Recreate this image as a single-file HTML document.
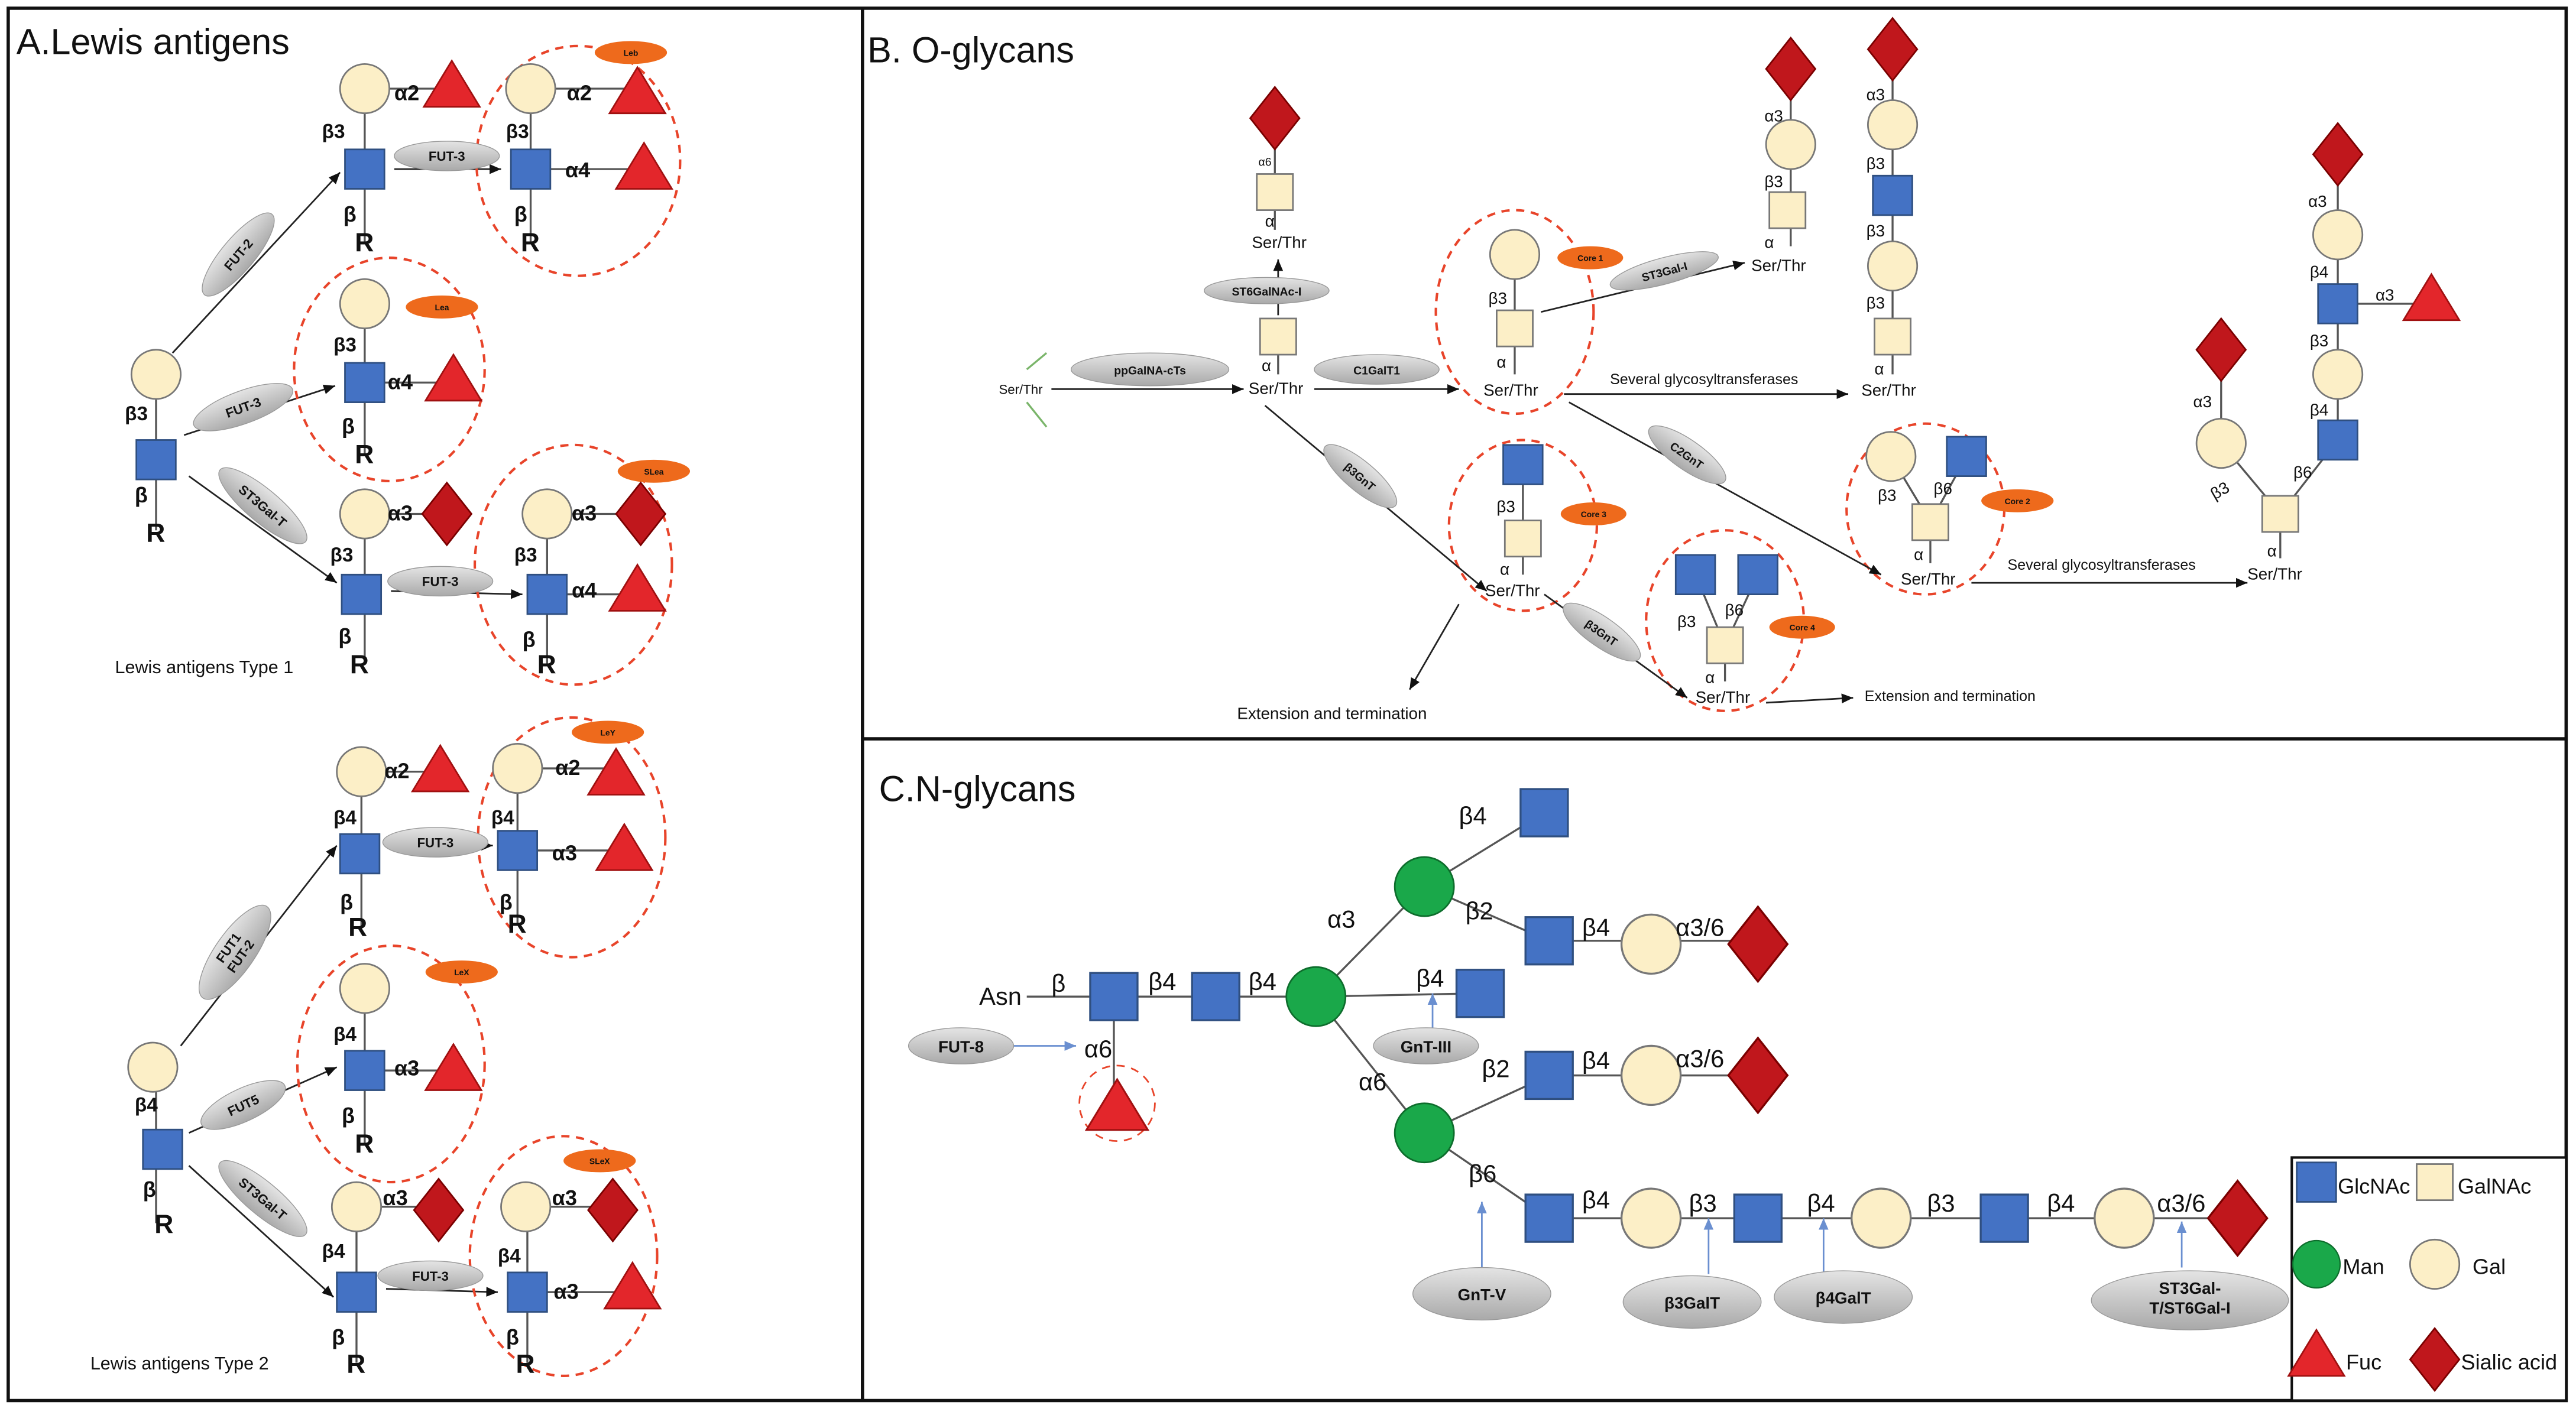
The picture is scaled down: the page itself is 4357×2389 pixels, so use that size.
<!DOCTYPE html>
<html><head><meta charset="utf-8"><style>
html,body{margin:0;padding:0;background:#fff}
svg{display:block}
text{font-family:"Liberation Sans",sans-serif;fill:#111}
.l{font-size:13px;font-weight:bold}
.s{font-size:9px}
.e{font-size:8px;font-weight:bold;fill:#333}
.o{font-size:5px;font-weight:bold;fill:#fff}
.t{font-size:22px}
.c{font-size:15px}
.lg{font-size:13px}
</style></head><body>
<svg width="4357" height="2389" viewBox="0 0 1568 860" preserveAspectRatio="none" xmlns="http://www.w3.org/2000/svg">
<defs>
<linearGradient id="gg" x1="0" y1="0" x2="0" y2="1"><stop offset="0" stop-color="#e4e4e4"/><stop offset="1" stop-color="#a9a9a9"/></linearGradient>
<marker id="ar" markerWidth="8" markerHeight="8" refX="7" refY="4" orient="auto" markerUnits="userSpaceOnUse"><path d="M0,1 L7,4 L0,7z" fill="#111"/></marker>
<marker id="ab" markerWidth="8" markerHeight="8" refX="7" refY="4" orient="auto" markerUnits="userSpaceOnUse"><path d="M0,1 L7,4 L0,7z" fill="#6a8fd0"/></marker>
<rect id="gn" x="-12" y="-12" width="24" height="24" fill="#4472c4" stroke="#2f4f80" stroke-width="1"/>
<rect id="ga" x="-11" y="-11" width="22" height="22" fill="#fcefc7" stroke="#777" stroke-width="1"/>
<circle id="gal" r="15" fill="#fcefc7" stroke="#777" stroke-width="1"/>
<polygon id="fuc" points="0,-16 17,12 -17,12" fill="#e3262b" stroke="#a01010" stroke-width="1"/>
<polygon id="sia" points="0,-19 15,0 0,19 -15,0" fill="#c0171c" stroke="#7a0000" stroke-width="1"/>
<circle id="man" r="18" fill="#1aa84a" stroke="#0d6d2c" stroke-width="1"/>
</defs>
<rect x="0" y="0" width="1568" height="860" fill="#fff"/>
<rect x="5" y="5" width="1557" height="848" fill="none" stroke="#111" stroke-width="2"/>
<line x1="525" y1="5" x2="525" y2="853" stroke="#111" stroke-width="2"/>
<line x1="525" y1="450" x2="1562" y2="450" stroke="#111" stroke-width="2"/>

<g stroke="#555" stroke-width="1.2" fill="none">
<!-- Panel A lines -->
<path d="M222,54 V148 M222,54 H275 M323,54 V148 M323,54 H388 M323,103 H392"/>
<path d="M222,185 V277 M222,233 H276"/>
<path d="M95,228 V323"/>
<path d="M222,313 V405 M222,313 H272 M333,313 V405 M333,313 H390 M333,362 H388"/>
<path d="M220,470 V565 M220,470 H268 M315,468 V563 M315,468 H375 M315,518 H380"/>
<path d="M222,602 V697 M222,652 H276"/>
<path d="M95,650 V745"/>
<path d="M217,735 V830 M217,735 H267 M321,735 V830 M321,735 H373 M321,787 H388"/>
<!-- Panel B -->
<path d="M776,72 V140 M778,205 V228 M922,155 V228 M1090,42 V150 M1152,30 V228 M1151,278 L1175,318 L1197,278 M1175,318 V343"/>
<path d="M1423,94 V268 L1388,313 M1423,185 H1480 M1352,213 V270 L1388,313 M1388,313 V340"/>
<path d="M927,283 V350 M1032,350 L1050,393 L1070,350 M1050,393 V415"/>
<!-- Panel C -->
<path d="M625,607 H801 M678,607 V675 M801,607 L867,540 L940,495 M867,540 L943,573 H1070 M801,607 L901,605 M801,607 L867,690 L943,655 H1070 M867,690 L943,742 H1362"/>
</g>

<!-- Panel A title -->
<text x="10" y="33" class="t">A.Lewis antigens</text>
<!-- arrows A -->
<g stroke="#222" stroke-width="1" marker-end="url(#ar)">
<line x1="105" y1="215" x2="207" y2="105"/><line x1="112" y1="265" x2="204" y2="235"/><line x1="115" y1="290" x2="205" y2="355"/>
<line x1="240" y1="103" x2="305" y2="103"/><line x1="238" y1="360" x2="318" y2="362"/>
<line x1="110" y1="637" x2="205" y2="515"/><line x1="115" y1="690" x2="205" y2="650"/><line x1="115" y1="710" x2="203" y2="790"/>
<line x1="237" y1="515" x2="300" y2="515"/><line x1="235" y1="785" x2="303" y2="787"/>
</g>
<g stroke="#e8442a" stroke-width="1.5" stroke-dasharray="5,4" fill="none">
<ellipse cx="352" cy="98" rx="62" ry="70"/><ellipse cx="237" cy="225" rx="58" ry="68"/><ellipse cx="349" cy="344" rx="60" ry="73"/>
<ellipse cx="348" cy="510" rx="57" ry="73"/><ellipse cx="238" cy="648" rx="57" ry="72"/><ellipse cx="343" cy="765" rx="57" ry="73"/>
<ellipse cx="922" cy="190" rx="48" ry="62"/><ellipse cx="1172" cy="310" rx="48" ry="52"/><ellipse cx="927" cy="320" rx="45" ry="52"/><ellipse cx="1050" cy="378" rx="48" ry="55"/>
<circle cx="680" cy="672" r="23" stroke-width="1"/>
</g>
<!-- gray enzyme ellipses A -->
<g fill="url(#gg)" stroke="#999" stroke-width="0.5">
<ellipse cx="272" cy="95" rx="32" ry="9"/><ellipse cx="145" cy="155" rx="32" ry="10" transform="rotate(-50 145 155)"/>
<ellipse cx="148" cy="248" rx="32" ry="10" transform="rotate(-20 148 248)"/><ellipse cx="160" cy="308" rx="34" ry="10" transform="rotate(40 160 308)"/>
<ellipse cx="268" cy="354" rx="32" ry="9"/>
<ellipse cx="265" cy="513" rx="32" ry="9"/><ellipse cx="143" cy="580" rx="34" ry="12" transform="rotate(-55 143 580)"/>
<ellipse cx="148" cy="673" rx="28" ry="10" transform="rotate(-25 148 673)"/><ellipse cx="160" cy="730" rx="34" ry="10" transform="rotate(40 160 730)"/>
<ellipse cx="262" cy="777" rx="32" ry="9"/>
</g>
<g text-anchor="middle" class="e">
<text x="272" y="98">FUT-3</text>
<text x="145" y="158" transform="rotate(-50 145 155)">FUT-2</text>
<text x="148" y="251" transform="rotate(-20 148 248)">FUT-3</text>
<text x="160" y="311" transform="rotate(40 160 308)">ST3Gal-T</text>
<text x="268" y="357">FUT-3</text>
<text x="265" y="516">FUT-3</text>
<text x="143" y="578" transform="rotate(-55 143 580)">FUT1</text><text x="143" y="587" transform="rotate(-55 143 580)">FUT-2</text>
<text x="148" y="676" transform="rotate(-25 148 673)">FUT5</text>
<text x="160" y="733" transform="rotate(40 160 730)">ST3Gal-T</text>
<text x="262" y="780">FUT-3</text>
</g>
<!-- orange labels -->
<g fill="#ee6a1c">
<ellipse cx="384" cy="32" rx="22" ry="7"/><ellipse cx="269" cy="187" rx="22" ry="7"/><ellipse cx="398" cy="287" rx="22" ry="7"/>
<ellipse cx="370" cy="446" rx="22" ry="7"/><ellipse cx="281" cy="592" rx="22" ry="7"/><ellipse cx="365" cy="707" rx="22" ry="7"/>
<ellipse cx="968" cy="157" rx="20" ry="7"/><ellipse cx="1228" cy="305" rx="22" ry="7"/><ellipse cx="970" cy="313" rx="20" ry="7"/><ellipse cx="1097" cy="382" rx="20" ry="7"/>
</g>
<g text-anchor="middle" class="o">
<text x="384" y="34">Leb</text><text x="269" y="189">Lea</text><text x="398" y="289">SLea</text>
<text x="370" y="448">LeY</text><text x="281" y="594">LeX</text><text x="365" y="709">SLeX</text>
<text x="968" y="159">Core 1</text><text x="1228" y="307">Core 2</text><text x="970" y="315">Core 3</text><text x="1097" y="384">Core 4</text>
</g>
<!-- Panel A glycans -->
<use href="#gal" x="222" y="54"/><use href="#fuc" x="275" y="53"/><use href="#gn" x="222" y="103"/>
<use href="#gal" x="323" y="54"/><use href="#fuc" x="388" y="57"/><use href="#gn" x="323" y="103"/><use href="#fuc" x="392" y="103"/>
<use href="#gal" x="222" y="185"/><use href="#gn" x="222" y="233"/><use href="#fuc" x="276" y="232"/>
<use href="#gal" x="95" y="228"/><use href="#gn" x="95" y="280"/>
<use href="#gal" x="222" y="313"/><use href="#sia" x="272" y="313"/><use href="#gn" x="220" y="362"/>
<use href="#gal" x="333" y="313"/><use href="#sia" x="390" y="313"/><use href="#gn" x="333" y="362"/><use href="#fuc" x="388" y="360"/>
<use href="#gal" x="220" y="470"/><use href="#fuc" x="268" y="470"/><use href="#gn" x="219" y="520"/>
<use href="#gal" x="315" y="468"/><use href="#fuc" x="375" y="472"/><use href="#gn" x="315" y="518"/><use href="#fuc" x="380" y="518"/>
<use href="#gal" x="222" y="602"/><use href="#gn" x="222" y="652"/><use href="#fuc" x="276" y="652"/>
<use href="#gal" x="93" y="650"/><use href="#gn" x="99" y="700"/>
<use href="#gal" x="217" y="735"/><use href="#sia" x="267" y="737"/><use href="#gn" x="217" y="787"/>
<use href="#gal" x="320" y="735"/><use href="#sia" x="373" y="737"/><use href="#gn" x="321" y="787"/><use href="#fuc" x="385" y="785"/>
<g class="l">
<text x="240" y="61">α2</text><text x="196" y="84" class="s" style="font-size:12px">β3</text><text x="209" y="135">β</text><text x="216" y="153" style="font-size:16px">R</text>
<text x="345" y="61">α2</text><text x="344" y="108">α4</text><text x="308" y="84" style="font-size:12px">β3</text><text x="313" y="135">β</text><text x="317" y="153" style="font-size:16px">R</text>
<text x="203" y="214" style="font-size:12px">β3</text><text x="236" y="237">α4</text><text x="208" y="264">β</text><text x="216" y="282" style="font-size:16px">R</text>
<text x="76" y="256" style="font-size:12px">β3</text><text x="82" y="306">β</text><text x="89" y="330" style="font-size:16px">R</text>
<text x="236" y="317">α3</text><text x="201" y="342" style="font-size:12px">β3</text><text x="206" y="392">β</text><text x="213" y="410" style="font-size:16px">R</text>
<text x="348" y="317">α3</text><text x="348" y="364">α4</text><text x="313" y="342" style="font-size:12px">β3</text><text x="318" y="394">β</text><text x="327" y="410" style="font-size:16px">R</text>
<text x="234" y="474">α2</text><text x="203" y="502" style="font-size:12px">β4</text><text x="207" y="554">β</text><text x="212" y="570" style="font-size:16px">R</text>
<text x="338" y="472">α2</text><text x="336" y="524">α3</text><text x="299" y="502" style="font-size:12px">β4</text><text x="304" y="554">β</text><text x="309" y="568" style="font-size:16px">R</text>
<text x="203" y="634" style="font-size:12px">β4</text><text x="240" y="655">α3</text><text x="208" y="684">β</text><text x="216" y="702" style="font-size:16px">R</text>
<text x="82" y="677" style="font-size:12px">β4</text><text x="87" y="729">β</text><text x="94" y="751" style="font-size:16px">R</text>
<text x="233" y="734">α3</text><text x="196" y="766" style="font-size:12px">β4</text><text x="202" y="819">β</text><text x="211" y="836" style="font-size:16px">R</text>
<text x="336" y="734">α3</text><text x="337" y="791">α3</text><text x="303" y="769" style="font-size:12px">β4</text><text x="308" y="819">β</text><text x="314" y="836" style="font-size:16px">R</text>
</g>
<text x="70" y="410" style="font-size:11px">Lewis antigens Type 1</text>
<text x="55" y="834" style="font-size:11px">Lewis antigens Type 2</text>

<!-- Panel B -->
<text x="528" y="38" class="t">B. O-glycans</text>
<path d="M625,225 L637,215 M625,245 L637,260" stroke="#7ab56a" stroke-width="1.2" fill="none"/>
<g stroke="#222" stroke-width="1" marker-end="url(#ar)">
<line x1="640" y1="237" x2="757" y2="237"/><line x1="778" y1="192" x2="778" y2="158"/>
<line x1="800" y1="237" x2="888" y2="237"/><line x1="938" y1="190" x2="1062" y2="160"/>
<line x1="952" y1="240" x2="1125" y2="240"/><line x1="955" y1="245" x2="1145" y2="350"/>
<line x1="1200" y1="355" x2="1368" y2="355"/><line x1="770" y1="247" x2="905" y2="360"/>
<line x1="888" y1="368" x2="858" y2="420"/><line x1="940" y1="362" x2="1027" y2="425"/>
<line x1="1075" y1="428" x2="1128" y2="425"/>
</g>
<g fill="url(#gg)" stroke="#999" stroke-width="0.5">
<ellipse cx="700" cy="225" rx="48" ry="10"/><ellipse cx="771" cy="177" rx="38" ry="8"/><ellipse cx="838" cy="225" rx="38" ry="9"/>
<ellipse cx="1013" cy="165" rx="34" ry="8" transform="rotate(-15 1013 165)"/><ellipse cx="1027" cy="277" rx="28" ry="9" transform="rotate(35 1027 277)"/>
<ellipse cx="828" cy="290" rx="28" ry="9" transform="rotate(40 828 290)"/><ellipse cx="975" cy="385" rx="28" ry="9" transform="rotate(35 975 385)"/>
</g>
<g text-anchor="middle" class="e" style="font-size:7px">
<text x="700" y="228">ppGalNA-cTs</text><text x="771" y="180">ST6GalNAc-I</text><text x="838" y="228">C1GalT1</text>
<text x="1013" y="168" transform="rotate(-15 1013 165)">ST3Gal-I</text><text x="1027" y="280" transform="rotate(35 1027 277)">C2GnT</text>
<text x="828" y="293" transform="rotate(40 828 290)">β3GnT</text><text x="975" y="388" transform="rotate(35 975 385)">β3GnT</text>
</g>
<use href="#sia" x="776" y="72"/><use href="#ga" x="776" y="117"/><use href="#ga" x="778" y="205"/>
<use href="#gal" x="922" y="155"/><use href="#ga" x="922" y="200"/>
<use href="#sia" x="1090" y="42"/><use href="#gal" x="1090" y="88"/><use href="#ga" x="1088" y="128"/>
<use href="#sia" x="1152" y="30"/><use href="#gal" x="1152" y="76"/><use href="#gn" x="1152" y="119"/><use href="#gal" x="1152" y="162"/><use href="#ga" x="1152" y="205"/>
<use href="#gal" x="1151" y="278"/><use href="#gn" x="1197" y="278"/><use href="#ga" x="1175" y="318"/>
<use href="#sia" x="1423" y="94"/><use href="#gal" x="1423" y="143"/><use href="#gn" x="1423" y="185"/><use href="#fuc" x="1480" y="183"/><use href="#gal" x="1423" y="228"/><use href="#gn" x="1423" y="268"/><use href="#ga" x="1388" y="313"/>
<use href="#sia" x="1352" y="213"/><use href="#gal" x="1352" y="270"/>
<use href="#gn" x="927" y="283"/><use href="#ga" x="927" y="328"/>
<use href="#gn" x="1032" y="350"/><use href="#gn" x="1070" y="350"/><use href="#ga" x="1050" y="393"/>
<g style="font-size:10px">
<text x="608" y="240" style="font-size:8px">Ser/Thr</text>
<text x="766" y="101" style="font-size:7px">α6</text><text x="770" y="138">α</text><text x="762" y="151">Ser/Thr</text>
<text x="768" y="226">α</text><text x="760" y="240">Ser/Thr</text>
<text x="906" y="185">β3</text><text x="911" y="224">α</text><text x="903" y="241">Ser/Thr</text>
<text x="1074" y="74">α3</text><text x="1074" y="114">β3</text><text x="1074" y="151">α</text><text x="1066" y="165">Ser/Thr</text>
<text x="1136" y="61">α3</text><text x="1136" y="103">β3</text><text x="1136" y="144">β3</text><text x="1136" y="188">β3</text><text x="1141" y="228">α</text><text x="1133" y="241">Ser/Thr</text>
<text x="1143" y="305">β3</text><text x="1177" y="301">β6</text><text x="1165" y="341">α</text><text x="1157" y="356">Ser/Thr</text>
<text x="1405" y="126">α3</text><text x="1406" y="169">β4</text><text x="1446" y="183">α3</text><text x="1406" y="211">β3</text><text x="1406" y="253">β4</text><text x="1396" y="291">β6</text>
<text x="1380" y="339">α</text><text x="1368" y="353">Ser/Thr</text>
<text x="1335" y="248">α3</text><text x="1346" y="303" transform="rotate(-30 1350 300)">β3</text>
<text x="911" y="312">β3</text><text x="913" y="350">α</text><text x="904" y="363">Ser/Thr</text>
<text x="1021" y="382">β3</text><text x="1050" y="375">β6</text><text x="1038" y="416">α</text><text x="1032" y="428">Ser/Thr</text>
<text x="980" y="234" style="font-size:9px">Several glycosyltransferases</text>
<text x="1222" y="347" style="font-size:9px">Several glycosyltransferases</text>
<text x="753" y="438">Extension and termination</text>
<text x="1135" y="427" style="font-size:9px">Extension and termination</text>
</g>

<!-- Panel C -->
<text x="535" y="488" class="t">C.N-glycans</text>
<g stroke="#6a8fd0" stroke-width="1" marker-end="url(#ab)">
<line x1="615" y1="637" x2="655" y2="637"/><line x1="872" y1="627" x2="872" y2="605"/>
<line x1="902" y1="772" x2="902" y2="732"/><line x1="1040" y1="776" x2="1040" y2="742"/>
<line x1="1110" y1="775" x2="1110" y2="742"/><line x1="1328" y1="772" x2="1328" y2="744"/>
</g>
<g fill="url(#gg)" stroke="#999" stroke-width="0.5">
<ellipse cx="585" cy="637" rx="32" ry="11"/><ellipse cx="868" cy="637" rx="32" ry="11"/>
<ellipse cx="902" cy="788" rx="42" ry="16"/><ellipse cx="1030" cy="793" rx="42" ry="16"/><ellipse cx="1122" cy="790" rx="42" ry="16"/>
<ellipse cx="1333" cy="792" rx="60" ry="18"/>
</g>
<g text-anchor="middle" class="e" style="font-size:10px">
<text x="585" y="641">FUT-8</text><text x="868" y="641">GnT-III</text><text x="902" y="792">GnT-V</text>
<text x="1030" y="797">β3GalT</text><text x="1122" y="794">β4GalT</text>
<text x="1333" y="788">ST3Gal-</text><text x="1333" y="800">T/ST6Gal-I</text>
</g>
<use href="#gn" x="678" y="607" transform="translate(-0 0)"/>
<g transform="translate(678 607) scale(1.2) translate(-678 -607)"><use href="#gn" x="678" y="607"/></g>
<g transform="translate(740 607) scale(1.2) translate(-740 -607)"><use href="#gn" x="740" y="607"/></g>
<use href="#man" x="801" y="607"/><use href="#man" x="867" y="540"/><use href="#man" x="867" y="690"/>
<g transform="translate(680 675) scale(1.1) translate(-680 -675)"><use href="#fuc" x="680" y="675"/></g>
<g transform="scale(1.2)">
<use href="#gn" x="783.3" y="412.5"/><use href="#gn" x="785.8" y="477.5"/><use href="#gn" x="750.8" y="504.2"/><use href="#gn" x="785.8" y="545.8"/>
<use href="#gn" x="785.8" y="618.3"/><use href="#gn" x="891.7" y="618.3"/><use href="#gn" x="1016.7" y="618.3"/>
<use href="#gal" x="837.5" y="479.2"/><use href="#gal" x="837.5" y="545.8"/><use href="#gal" x="837.5" y="618.3"/><use href="#gal" x="954.2" y="618.3"/><use href="#gal" x="1077.5" y="618.3"/>
<use href="#sia" x="891.7" y="479.2"/><use href="#sia" x="891.7" y="545.8"/><use href="#sia" x="1135" y="618.3"/>
</g>
<g class="c">
<text x="596" y="612">Asn</text><text x="640" y="604">β</text><text x="699" y="603">β4</text><text x="760" y="603">β4</text>
<text x="660" y="644">α6</text>
<text x="808" y="565">α3</text><text x="888" y="502">β4</text><text x="892" y="560">β2</text><text x="963" y="570">β4</text><text x="1020" y="570">α3/6</text>
<text x="862" y="601">β4</text>
<text x="827" y="664">α6</text><text x="902" y="656">β2</text><text x="963" y="651">β4</text><text x="1020" y="650">α3/6</text>
<text x="894" y="720">β6</text><text x="963" y="736">β4</text><text x="1028" y="738">β3</text><text x="1100" y="738">β4</text><text x="1173" y="738">β3</text><text x="1246" y="738">β4</text><text x="1313" y="738">α3/6</text>
</g>
<!-- legend -->
<rect x="1395" y="705" width="167" height="148" fill="#fff" stroke="#111" stroke-width="1.5"/>
<use href="#gn" x="1410" y="720"/><use href="#ga" x="1482" y="720"/>
<use href="#man" x="1410" y="770" transform="translate(1410 770) scale(0.8) translate(-1410 -770)"/>
<use href="#gal" x="1482" y="770"/>
<use href="#fuc" x="1410" y="826"/><use href="#sia" x="1482" y="828"/>
<g class="lg">
<text x="1423" y="727">GlcNAc</text><text x="1496" y="727">GalNAc</text>
<text x="1426" y="776">Man</text><text x="1505" y="776">Gal</text>
<text x="1428" y="834">Fuc</text><text x="1498" y="834">Sialic acid</text>
</g>
</svg>
</body></html>
